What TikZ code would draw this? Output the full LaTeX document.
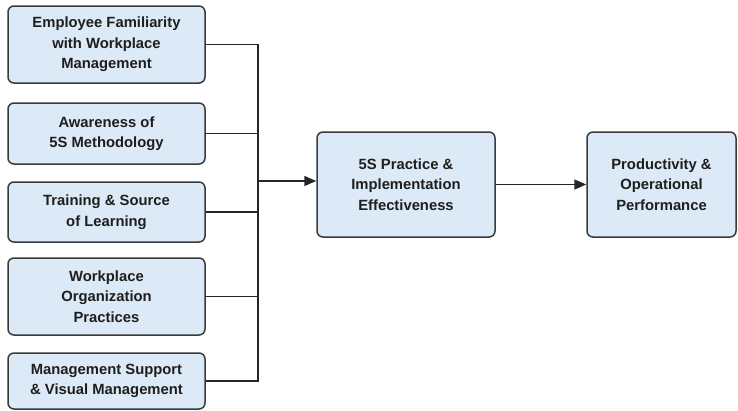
\documentclass[tikz,border=0pt]{standalone}
\usepackage{fontspec}
\setmainfont{Liberation Sans}
\usetikzlibrary{arrows.meta}
\definecolor{boxfill}{HTML}{DCE9F6}
\definecolor{boxline}{HTML}{3A3A3A}
\definecolor{txt}{HTML}{1E1E1E}
\begin{document}
\begin{tikzpicture}[x=1pt,y=-1pt,
  box/.style={draw=boxline,fill=boxfill,line width=1.5pt,rounded corners=6pt,
    align=center,font=\fontsize{14.8}{20.5}\selectfont\bfseries,text=txt,inner sep=2pt},
  conn/.style={draw=black!85,line width=1.6pt},
  arr/.style={conn,-{Triangle[length=12pt,width=10pt]}}]
\useasboundingbox (0,0) rectangle (738,410);
\node[box,minimum width=197pt,minimum height=77pt] (b1) at (106.5,44.5) {Employee Familiarity\\with Workplace\\Management};
\node[box,minimum width=197pt,minimum height=61pt] (b2) at (106.5,133.5) {Awareness of\\5S Methodology};
\node[box,minimum width=197pt,minimum height=60pt] (b3) at (106.5,212) {Training \& Source\\of Learning};
\node[box,minimum width=197pt,minimum height=77pt] (b4) at (106.5,296.5) {Workplace\\Organization\\Practices};
\node[box,minimum width=197pt,minimum height=56pt] (b5) at (106.5,381) {Management Support\\\& Visual Management};
\node[box,minimum width=178pt,minimum height=105pt] (c) at (406,184.5) {5S Practice \&\\Implementation\\Effectiveness};
\node[box,minimum width=149pt,minimum height=105pt] (r) at (661.5,184.5) {Productivity \&\\Operational\\Performance};
\coordinate (jb) at (258,381);
\coordinate (jm) at (258,181);
\draw[conn] (b1.east) -| (jb) -- (b5.east);
\draw[conn] (b2.east) -- (b2.east -| jm);
\draw[conn] (b3.east) -- (b3.east -| jm);
\draw[conn] (b4.east) -- (b4.east -| jm);
\draw[arr] (jm) -- (jm -| c.west);
\draw[arr] (c.east) -- (r.west);
\end{tikzpicture}
\end{document}
